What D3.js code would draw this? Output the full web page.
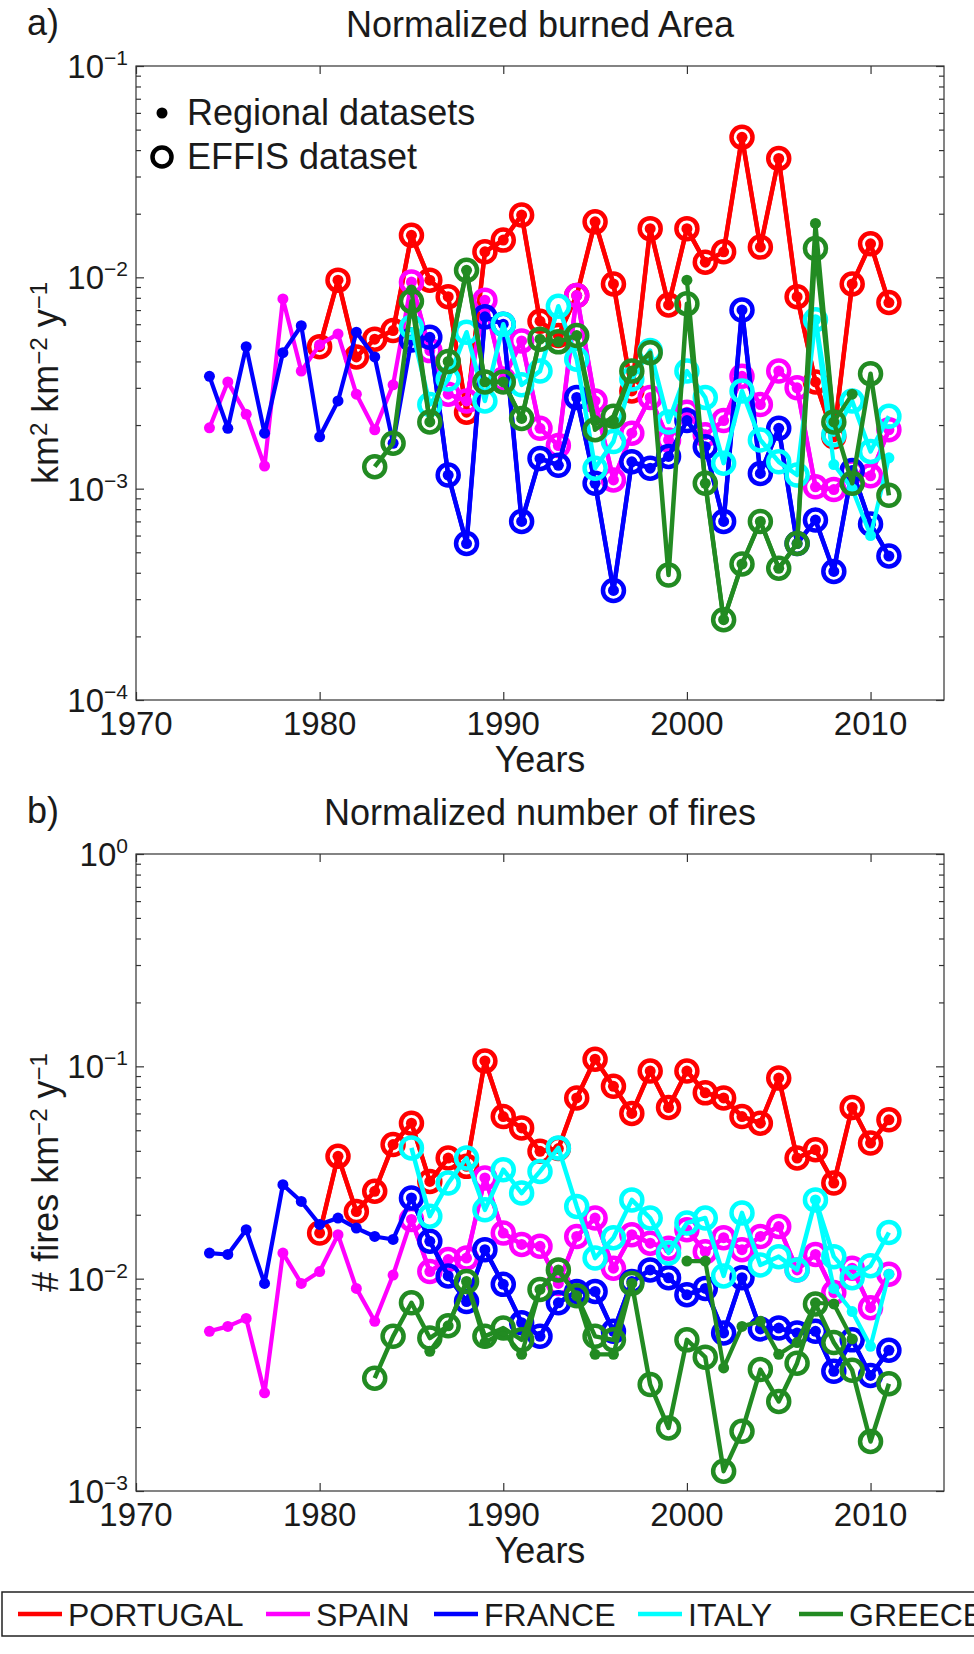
<!DOCTYPE html>
<html>
<head>
<meta charset="utf-8">
<script src="https://cdn.jsdelivr.net/npm/d3@7"></script>
<style>
  body { margin: 0; background: #fff; }
  svg { display: block; }
  text { font-family: "Liberation Sans", Arial, sans-serif; fill: #1a1a1a; }
</style>
</head>
<body>
<svg id="chart" width="974" height="1654"></svg>
<script>
const countries = ["PORTUGAL", "SPAIN", "FRANCE", "ITALY", "GREECE"];
const colors = ["#ff0000", "#ff00ff", "#0000ff", "#00ffff", "#228b22"];
const xTicks = [1970, 1980, 1990, 2000, 2010];

// a) burned area, km2 km-2 y-1
const areaPortugal = [4.7e-3, 9.7e-3, 4.2e-3, 5.1e-3, 5.6e-3, 1.58e-2, 9.7e-3, 8.1e-3, 2.3e-3, 1.32e-2,
  1.5e-2, 1.97e-2, 6.2e-3, 5.3e-3, 8.2e-3, 1.83e-2, 9.3e-3, 2.9e-3, 1.7e-2, 7.4e-3,
  1.7e-2, 1.18e-2, 1.32e-2, 4.6e-2, 1.39e-2, 3.65e-2, 8.1e-3, 3.2e-3, 1.76e-3, 9.3e-3,
  1.44e-2, 7.6e-3];                                   // 1980-2011
const areaSpain = [1.94e-3, 3.2e-3, 2.25e-3, 1.28e-3, 7.9e-3, 3.6e-3,
  4.8e-3, 5.4e-3, 2.8e-3, 1.9e-3, 3.1e-3, 9.5e-3, 4.5e-3, 2.8e-3, 2.6e-3, 7.8e-3,
  3.3e-3, 5.0e-3, 1.93e-3, 1.6e-3, 8.2e-3, 2.6e-3, 1.1e-3, 1.83e-3, 2.7e-3, 1.7e-3,
  2.3e-3, 1.8e-3, 2.1e-3, 3.4e-3, 2.5e-3, 3.6e-3, 3.0e-3, 1.02e-3, 9.9e-4, 1.2e-3,
  1.15e-3, 1.9e-3];                                   // 1974-2011
const areaFrance = [3.4e-3, 1.93e-3, 4.7e-3, 1.83e-3, 4.4e-3, 5.9e-3,
  1.76e-3, 2.6e-3, 5.5e-3, 4.2e-3, 1.64e-3, 5.05e-3, 5.2e-3, 1.16e-3, 5.5e-4, 6.5e-3,
  6.0e-3, 7.0e-4, 1.39e-3, 1.29e-3, 2.7e-3, 1.06e-3, 3.3e-4, 1.34e-3, 1.25e-3, 1.42e-3,
  2.1e-3, 1.58e-3, 7.0e-4, 7.0e-3, 1.18e-3, 1.93e-3, 5.5e-4, 7.1e-4, 4.06e-4, 1.22e-3,
  6.8e-4, 4.8e-4];                                    // 1974-2011
const areaItaly = [5.8e-3, 2.5e-3, 3.3e-3, 5.5e-3, 2.6e-3,
  6.0e-3, 3.1e-3, 3.6e-3, 7.3e-3, 4.1e-3, 1.25e-3, 1.67e-3, 3.3e-3, 4.5e-3, 2.07e-3,
  3.6e-3, 2.7e-3, 1.32e-3, 2.9e-3, 1.7e-3, 1.34e-3, 1.16e-3, 6.3e-3, 1.8e-3, 2.6e-3,
  1.5e-3, 2.2e-3];                                    // 1985-2011
const areaItalyRegional = [6.3e-3, 1.3e-3, 1.0e-3, 6.0e-4, 1.4e-3];   // 2007-2011
const areaGreece = [1.27e-3, 1.64e-3, 7.7e-3, 2.07e-3, 4.0e-3, 1.08e-2, 3.2e-3,
  3.2e-3, 2.15e-3, 5.1e-3, 4.95e-3, 5.3e-3, 1.9e-3, 2.2e-3, 3.6e-3, 4.4e-3, 3.9e-4,
  7.5e-3, 1.06e-3, 2.4e-4, 4.4e-4, 7.0e-4, 4.2e-4, 5.5e-4, 1.37e-2, 2.07e-3, 1.06e-3,
  3.5e-3, 9.3e-4];                                    // 1983-2011
const areaGreeceRegional = [8.7e-3, 2.07e-3, 4.0e-3, 1.08e-2, 3.2e-3,
  3.2e-3, 2.15e-3, 5.1e-3, 4.95e-3, 5.3e-3, 2.1e-3, 2.1e-3, 3.6e-3, null, null,
  9.7e-3, 1.06e-3, 2.4e-4, 4.4e-4, 7.0e-4, 4.2e-4, 5.5e-4, 1.8e-2, 2.07e-3, 2.8e-3];  // 1985-2009

// b) number of fires, fires km-2 y-1
const firesPortugal = [1.64e-2, 3.77e-2, 2.07e-2, 2.58e-2, 4.28e-2, 5.4e-2, 2.87e-2, 3.7e-2, 3.38e-2, 1.06e-1,
  5.8e-2, 5.13e-2, 3.98e-2, 4.1e-2, 7.1e-2, 1.08e-1, 8.05e-2, 6.0e-2, 9.5e-2, 6.4e-2,
  9.5e-2, 7.5e-2, 7.1e-2, 5.8e-2, 5.4e-2, 8.8e-2, 3.7e-2, 4.05e-2, 2.82e-2, 6.4e-2,
  4.35e-2, 5.6e-2];                                   // 1980-2011
const firesSpain = [5.65e-3, 5.96e-3, 6.5e-3, 2.9e-3, 1.32e-2, 9.5e-3,
  1.08e-2, 1.61e-2, 9.0e-3, 6.3e-3, 1.04e-2, 1.9e-2, 1.08e-2, 1.23e-2, 1.25e-2, 2.98e-2,
  1.64e-2, 1.45e-2, 1.42e-2, 9.5e-3, 1.58e-2, 1.93e-2, 1.12e-2, 1.61e-2, 1.47e-2, 1.39e-2,
  1.7e-2, 1.34e-2, 1.56e-2, 1.37e-2, 1.58e-2, 1.76e-2, 1.1e-2, 1.3e-2, 8.6e-3, 1.12e-2,
  7.3e-3, 1.05e-2];                                   // 1974-2011
const firesFrance = [1.32e-2, 1.3e-2, 1.7e-2, 9.5e-3, 2.77e-2, 2.31e-2,
  1.8e-2, 1.93e-2, 1.73e-2, 1.58e-2, 1.53e-2, 2.4e-2, 1.5e-2, 1.03e-2, 7.8e-3, 1.37e-2,
  9.4e-3, 6.2e-3, 5.35e-3, 7.7e-3, 8.7e-3, 8.7e-3, 5.65e-3, 9.7e-3, 1.1e-2, 1.01e-2,
  8.4e-3, 9.0e-3, 5.55e-3, 1.01e-2, 5.8e-3, 5.85e-3, 5.55e-3, 5.65e-3, 3.66e-3, 5.15e-3,
  3.5e-3, 4.6e-3];                                    // 1974-2011
const firesItaly = [4.13e-2, 1.97e-2, 2.82e-2, 3.7e-2, 2.11e-2,
  3.26e-2, 2.53e-2, 3.2e-2, 4.13e-2, 2.19e-2, 1.25e-2, 1.56e-2, 2.35e-2, 1.93e-2, 1.32e-2,
  1.83e-2, 1.93e-2, 1.03e-2, 2.04e-2, 1.16e-2, 1.27e-2, 1.1e-2, 2.35e-2, 1.27e-2, 1.01e-2,
  1.15e-2, 1.65e-2];                                  // 1985-2011
const firesItalyRegional = [2.35e-2, 9.0e-3, 7.0e-3, 4.8e-3, 1.05e-2];   // 2007-2011
const firesGreece = [3.4e-3, 5.35e-3, 7.7e-3, 5.25e-3, 6.0e-3, 9.7e-3, 5.35e-3,
  5.85e-3, 5.15e-3, 8.9e-3, 1.1e-2, 8.3e-3, 5.35e-3, 5.15e-3, 9.5e-3, 3.17e-3, 1.98e-3,
  5.15e-3, 4.27e-3, 1.24e-3, 1.91e-3, 3.73e-3, 2.64e-3, 4.0e-3, 7.6e-3, 5.0e-3, 3.7e-3,
  1.71e-3, 3.2e-3];                                   // 1983-2011
const firesGreeceRegional = [4.55e-3, 6.0e-3, 9.7e-3, 5.0e-3,
  5.6e-3, 4.4e-3, 8.9e-3, 1.1e-2, 8.3e-3, 4.4e-3, 4.4e-3, 9.5e-3, null, null,
  1.21e-2, 1.21e-2, 3.8e-3, 5.96e-3, 6.3e-3, 4.4e-3, 5.0e-3, 7.7e-3, 7.6e-3, 5.2e-3];  // 1986-2009

const toPoints = (start, vals) => vals.map((v, i) => ({ year: start + i, v }));

const panels = [
  {
    label: "a)", title: "Normalized burned Area", top: 66, bottom: 700, domain: [1e-4, 1e-1],
    ylabel: [["km", 0], ["2", 1], [" km", 0], ["\u22122", 1], [" y", 0], ["\u22121", 1]],
    regional: [toPoints(1980, areaPortugal), toPoints(1974, areaSpain), toPoints(1974, areaFrance),
               toPoints(2007, areaItalyRegional), toPoints(1985, areaGreeceRegional)],
    effis: [toPoints(1980, areaPortugal), toPoints(1985, areaSpain.slice(11)), toPoints(1985, areaFrance.slice(11)),
            toPoints(1985, areaItaly), toPoints(1983, areaGreece)],
    legend: true
  },
  {
    label: "b)", title: "Normalized number of fires", top: 854, bottom: 1491, domain: [1e-3, 1],
    ylabel: [["# fires km", 0], ["\u22122", 1], [" y", 0], ["\u22121", 1]],
    regional: [toPoints(1980, firesPortugal), toPoints(1974, firesSpain), toPoints(1974, firesFrance),
               toPoints(2007, firesItalyRegional), toPoints(1986, firesGreeceRegional)],
    effis: [toPoints(1980, firesPortugal), toPoints(1985, firesSpain.slice(11)), toPoints(1985, firesFrance.slice(11)),
            toPoints(1985, firesItaly), toPoints(1983, firesGreece)],
    legend: false
  }
];

const svg = d3.select('#chart');
const left = 136, right = 944;
const x = d3.scaleLinear().domain([1970, 2014]).range([left, right]);
const ringR = 10.5, ringW = 4.5, dotR = 5.5;

panels.forEach(p => {
  const y = d3.scaleLog().domain(p.domain).range([p.bottom, p.top]);
  const g = svg.append('g');

  // lines, dots (regional) and rings (EFFIS)
  const line = d3.line().defined(d => d.v != null).x(d => x(d.year)).y(d => y(d.v));
  const plot = g.append('g');
  countries.forEach((c, i) => {
    const reg = p.regional[i], eff = p.effis[i];
    plot.append('path').datum(reg).attr('d', line)
      .attr('fill', 'none').attr('stroke', colors[i]).attr('stroke-width', 4.2).attr('stroke-linejoin', 'round');
    plot.append('g').selectAll('circle').data(reg.filter(d => d.v != null)).join('circle')
      .attr('cx', d => x(d.year)).attr('cy', d => y(d.v)).attr('r', dotR).attr('fill', colors[i]);
    plot.append('path').datum(eff).attr('d', line)
      .attr('fill', 'none').attr('stroke', colors[i]).attr('stroke-width', 4.5).attr('stroke-linejoin', 'round');
    plot.append('g').selectAll('circle').data(eff).join('circle')
      .attr('cx', d => x(d.year)).attr('cy', d => y(d.v)).attr('r', ringR)
      .attr('fill', 'none').attr('stroke', colors[i]).attr('stroke-width', ringW);
  });

  // box and ticks
  g.append('rect').attr('x', left).attr('y', p.top).attr('width', right - left).attr('height', p.bottom - p.top)
    .attr('fill', 'none').attr('stroke', '#333').attr('stroke-width', 1.2);
  g.append('g').attr('transform', `translate(0,${p.bottom})`)
    .call(d3.axisBottom(x).tickValues(xTicks).tickSize(-8).tickFormat(''));
  g.append('g').attr('transform', `translate(0,${p.top})`)
    .call(d3.axisTop(x).tickValues(xTicks).tickSize(-8).tickFormat(''));
  const isDecade = t => Math.abs(Math.log10(t) - Math.round(Math.log10(t))) < 1e-6;
  const minor = y.ticks().filter(t => !isDecade(t));
  const major = y.ticks().filter(isDecade);
  [[d3.axisLeft, left], [d3.axisRight, right]].forEach(([ax, pos]) => {
    g.append('g').attr('transform', `translate(${pos},0)`).call(ax(y).tickValues(minor).tickSize(-5).tickFormat(''));
    g.append('g').attr('transform', `translate(${pos},0)`).call(ax(y).tickValues(major).tickSize(-8).tickFormat(''));
  });
  g.selectAll('.domain').remove();
  g.selectAll('.tick line').attr('stroke', '#333').attr('stroke-width', 1.2);

  // tick labels
  g.append('g').selectAll('text').data(xTicks).join('text')
    .attr('x', d => x(d)).attr('y', p.bottom + 35).attr('text-anchor', 'middle')
    .style('font-size', '33px').text(d => d);
  major.forEach(t => {
    const e = Math.round(Math.log10(t));
    const tx = g.append('text').attr('x', 128).attr('y', y(t) + 12).attr('text-anchor', 'end').style('font-size', '33px');
    tx.append('tspan').text('10');
    tx.append('tspan').attr('dy', -13).style('font-size', '21px').text(e === 0 ? '0' : '\u2212' + Math.abs(e));
  });

  g.append('text').attr('x', (left + right) / 2).attr('y', p.bottom + 72).attr('text-anchor', 'middle')
    .style('font-size', '36px').text('Years');
  g.append('text').attr('x', (left + right) / 2).attr('y', p.top - 29).attr('text-anchor', 'middle')
    .style('font-size', '36px').text(p.title);
  g.append('text').attr('x', 27).attr('y', p.top - 31).style('font-size', '36px').text(p.label);

  const yl = g.append('text')
    .attr('transform', `translate(58,${(p.top + p.bottom) / 2}) rotate(-90)`)
    .attr('text-anchor', 'middle').style('font-size', '36px');
  p.ylabel.forEach(([s, sup]) => {
    yl.append('tspan').attr('baseline-shift', sup ? '45%' : '0%').style('font-size', sup ? '24px' : '36px').text(s);
  });

  if (p.legend) {
    const lg = g.append('g');
    lg.append('circle').attr('cx', 162).attr('cy', 113).attr('r', dotR).attr('fill', '#000');
    lg.append('circle').attr('cx', 162).attr('cy', 157).attr('r', ringR - 1).attr('fill', 'none')
      .attr('stroke', '#000').attr('stroke-width', ringW);
    lg.append('text').attr('x', 187).attr('y', 125).style('font-size', '36px').text('Regional datasets');
    lg.append('text').attr('x', 187).attr('y', 169).style('font-size', '36px').text('EFFIS dataset');
  }
});

// bottom legend
const leg = svg.append('g').attr('transform', 'translate(0,1592)');
leg.append('rect').attr('x', 2).attr('y', 0).attr('width', 990).attr('height', 44)
  .attr('fill', '#fff').attr('stroke', '#222').attr('stroke-width', 1.5);
const legX = [18, 266, 434, 638, 799];
countries.forEach((c, i) => {
  leg.append('line').attr('x1', legX[i]).attr('x2', legX[i] + 44).attr('y1', 22).attr('y2', 22)
    .attr('stroke', colors[i]).attr('stroke-width', 4.5);
  leg.append('text').attr('x', legX[i] + 50).attr('y', 34).style('font-size', '32px').text(c);
});
</script>
</body>
</html>
